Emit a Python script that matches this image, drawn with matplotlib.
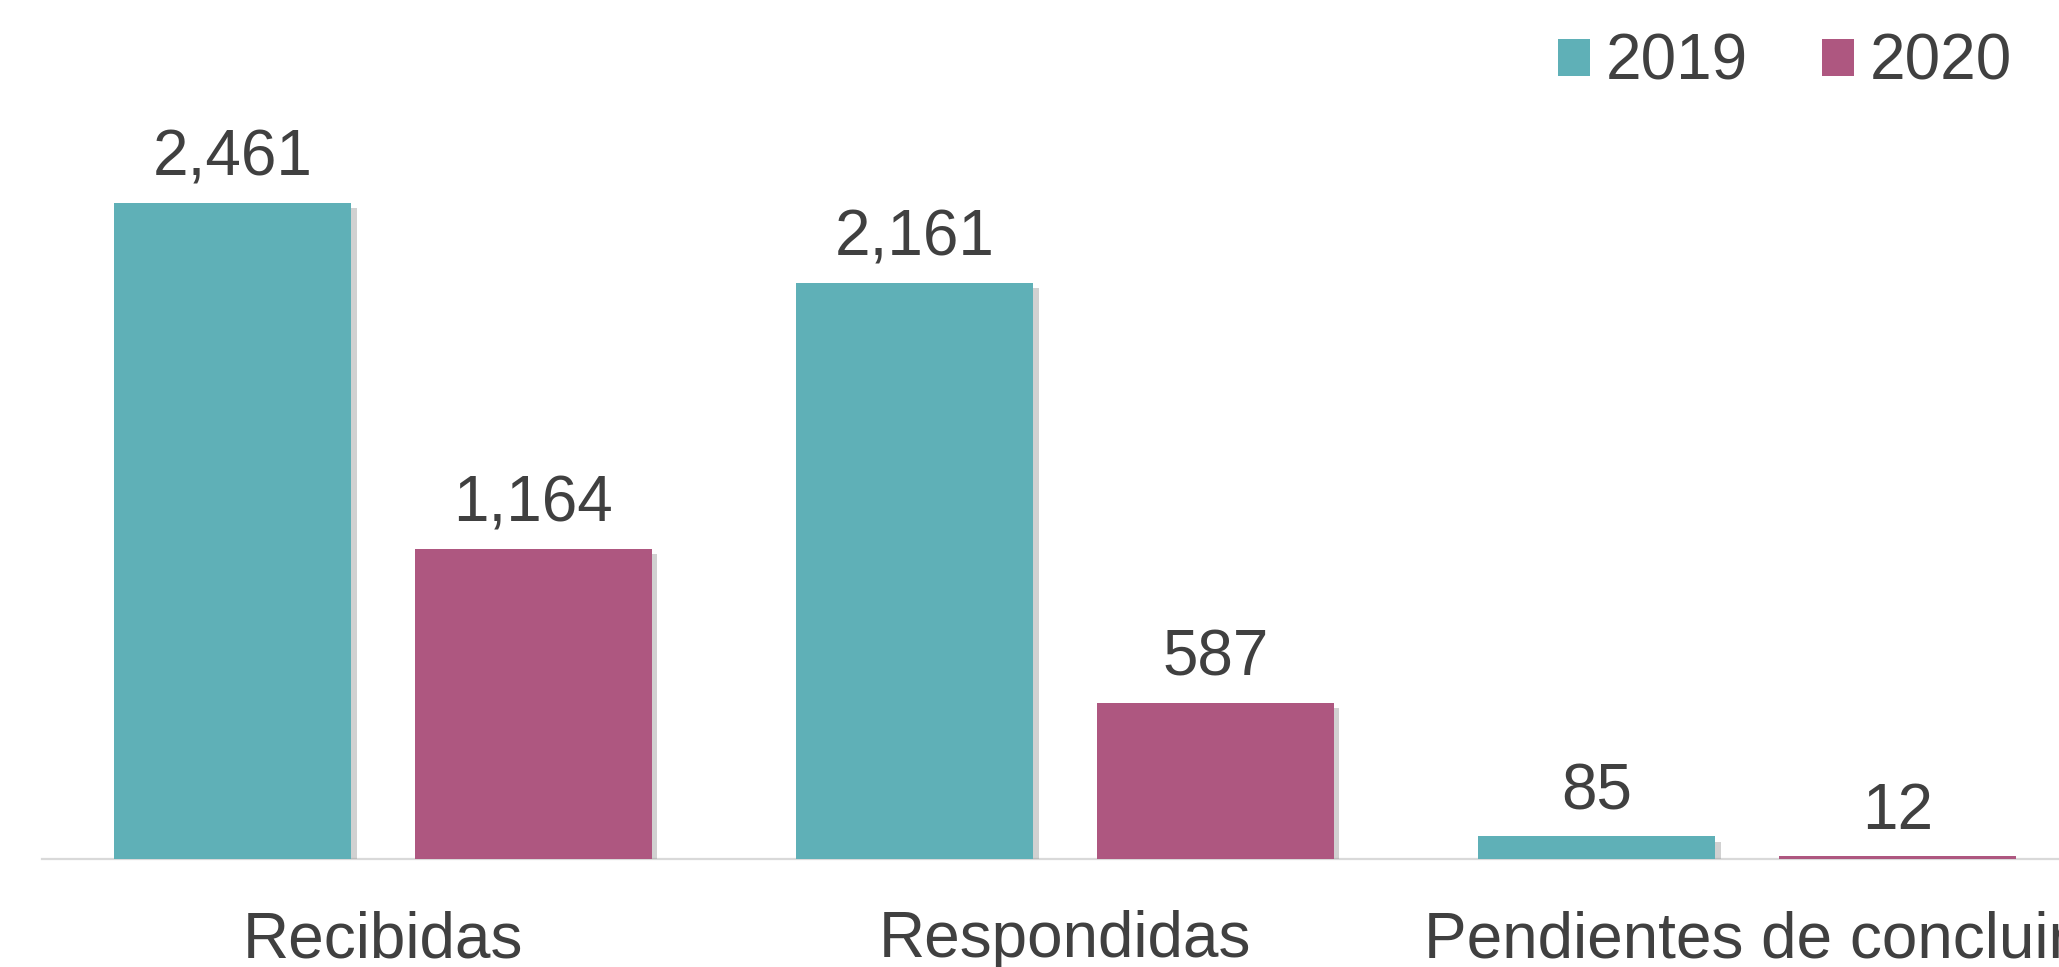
import matplotlib.pyplot as plt
import matplotlib.patheffects as pe
from matplotlib.patches import Patch
import numpy as np

plt.rcParams['font.family'] = ['Liberation Sans', 'DejaVu Sans']

categories = ['Recibidas', 'Respondidas', 'Pendientes de concluir']
years = ['2019', '2020']
vals_2019 = [2461, 2161, 85]
vals_2020 = [1164, 587, 12]

colors = ['#5FB0B7', '#AE5780']
text_color = '#404040'
fs = 46

fig = plt.figure(figsize=(20.59, 9.67), dpi=100)
ax = fig.add_axes([42 / 2059, 108 / 967, 2046 / 2059, 859 / 967])

x = np.arange(len(categories))
w = 0.347
off = 0.2205
shadow = [pe.SimplePatchShadow(offset=(4, -4), shadow_rgbFace='#999999', alpha=0.45), pe.Normal()]

for i, (vals, col) in enumerate(zip([vals_2019, vals_2020], colors)):
    pos = x + (-off if i == 0 else off)
    bars = ax.bar(pos, vals, width=w, color=col, zorder=3)
    for b in bars:
        b.set_path_effects(shadow)
    for p, v in zip(pos, vals):
        ax.annotate(f'{v:,}', (p, v), xytext=(0, 10), textcoords='offset points',
                    ha='center', va='bottom', fontsize=fs, color=text_color)

ax.set_xlim(-0.5, 2.5)
ax.set_ylim(0, 3222)
ax.set_xticks(x)
ax.set_xticklabels(categories, fontsize=fs, color=text_color)
ax.tick_params(axis='x', length=0, pad=37)
ax.set_yticks([])
for s in ['top', 'right', 'left']:
    ax.spines[s].set_visible(False)
ax.spines['bottom'].set_color('#D9D9D9')
ax.spines['bottom'].set_linewidth(1.6)
ax.spines['bottom'].set_zorder(2)

handles = [Patch(facecolor=c, edgecolor='none') for c in colors]
fig.legend(handles, years, ncol=2, loc='center right', frameon=False,
           bbox_to_anchor=(2012 / 2059, 1 - 63 / 967), fontsize=fs,
           handlelength=0.5, handleheight=0.5, handletextpad=0.25,
           columnspacing=1.15, borderpad=0, borderaxespad=0, labelcolor=text_color)

fig.savefig('out.png', dpi=100)
